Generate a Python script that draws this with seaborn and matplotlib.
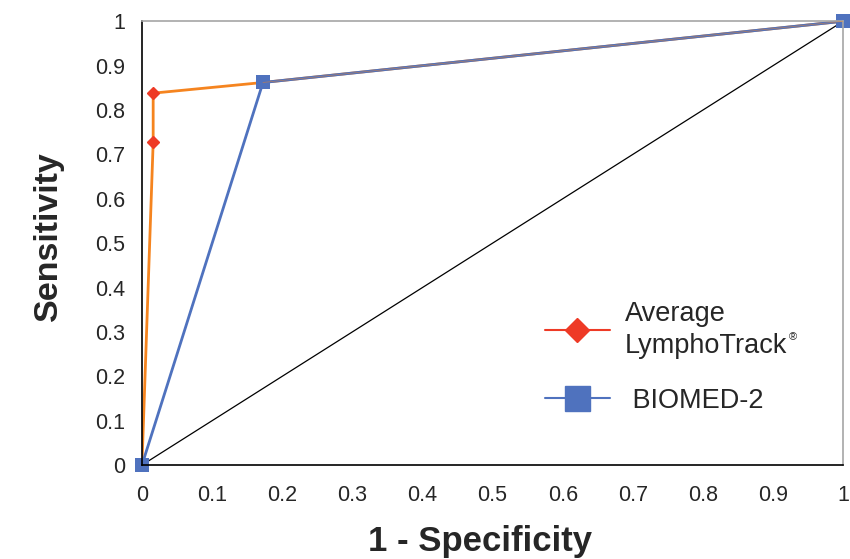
import pandas as pd
import matplotlib
matplotlib.use("Agg")
import matplotlib.pyplot as plt
import seaborn as sns
from matplotlib.lines import Line2D

sns.set_style("white")
plt.rcParams['font.family'] = ['Liberation Sans', 'DejaVu Sans']

# ROC points
lympho_x = [0.0, 0.016, 0.016, 0.1726, 1.0]
lympho_y = [0.0, 0.727, 0.838, 0.862, 1.0]
biomed_x = [0.0, 0.1726, 1.0]
biomed_y = [0.0, 0.862, 1.0]
diag_x = [0.0, 1.0]
diag_y = [0.0, 1.0]
ticks = [0, 0.1, 0.2, 0.3, 0.4, 0.5, 0.6, 0.7, 0.8, 0.9, 1]
tick_labels = ["0", "0.1", "0.2", "0.3", "0.4", "0.5", "0.6", "0.7", "0.8", "0.9", "1"]

df_l = pd.DataFrame({"x": lympho_x, "y": lympho_y})
df_b = pd.DataFrame({"x": biomed_x, "y": biomed_y})
df_d = pd.DataFrame({"x": diag_x, "y": diag_y})

fig = plt.figure(figsize=(8.5, 5.59), dpi=100)
ax = fig.add_axes([0.167, 0.168, 0.825, 0.794])

sns.lineplot(data=df_d, x="x", y="y", sort=False, estimator=None,
             color="black", linewidth=0.9, ax=ax)
sns.lineplot(data=df_l, x="x", y="y", sort=False, estimator=None,
             color="#F5841F", linewidth=2.0, ax=ax)
# red diamonds on the two LymphoTrack points
ax.plot(lympho_x[1:3], lympho_y[1:3], linestyle="none", marker="D", markersize=6.5,
        color="#EE3A26", zorder=4)
sns.lineplot(data=df_b, x="x", y="y", sort=False, estimator=None,
             color="#4F72BE", linewidth=2.0, marker="s", markersize=9.5,
             markeredgewidth=0, clip_on=False, ax=ax)
# orange tint over the shared top segment
ax.plot(lympho_x[3:], lympho_y[3:], color="#F5841F", linewidth=0.6, alpha=0.5, zorder=3)

ax.set_xlim(0, 1)
ax.set_ylim(0, 1)
ax.set_xticks(ticks)
ax.set_xticklabels(tick_labels)
ax.set_yticks(ticks)
ax.set_yticklabels(tick_labels)
ax.tick_params(axis="both", labelsize=15.5, direction="out", length=5, width=1,
               color="#808080")
ax.tick_params(axis="x", pad=9)
ax.tick_params(axis="y", pad=7)

for side in ["left", "bottom"]:
    ax.spines[side].set_color("black")
    ax.spines[side].set_linewidth(1.2)
for side in ["top", "right"]:
    ax.spines[side].set_color("#A6A6A6")
    ax.spines[side].set_linewidth(1.2)

ax.set_xlabel("1 - Specificity", fontsize=25, fontweight="bold")
ax.set_ylabel("Sensitivity", fontsize=24.5, fontweight="bold")
ax.xaxis.set_label_coords(0.482, -0.135)
ax.yaxis.set_label_coords(-0.111, 0.516)

handles = [
    Line2D([0], [0], color="#EE3A26", linewidth=1.5, marker="D", markersize=12),
    Line2D([0], [0], color="#4F72BE", linewidth=1.5, marker="s", markersize=18),
]
leg = fig.legend(handles, ["Average\nLymphoTrack", " BIOMED-2"],
                 loc="upper left", bbox_to_anchor=(0.641, 0.462), frameon=False,
                 fontsize=19.5, handlelength=2.4, labelspacing=1.05, handletextpad=0.55,
                 borderpad=0, borderaxespad=0)
for t in leg.get_texts():
    t.set_linespacing(1.32)

# small registered mark after "LymphoTrack"
fig.canvas.draw()
bb = leg.get_texts()[0].get_window_extent().transformed(fig.transFigure.inverted())
fig.text(bb.x1 + 0.002, bb.y0 + 0.03, "®", fontsize=8, ha="left", va="bottom")

plt.savefig("out.png", dpi=100)
